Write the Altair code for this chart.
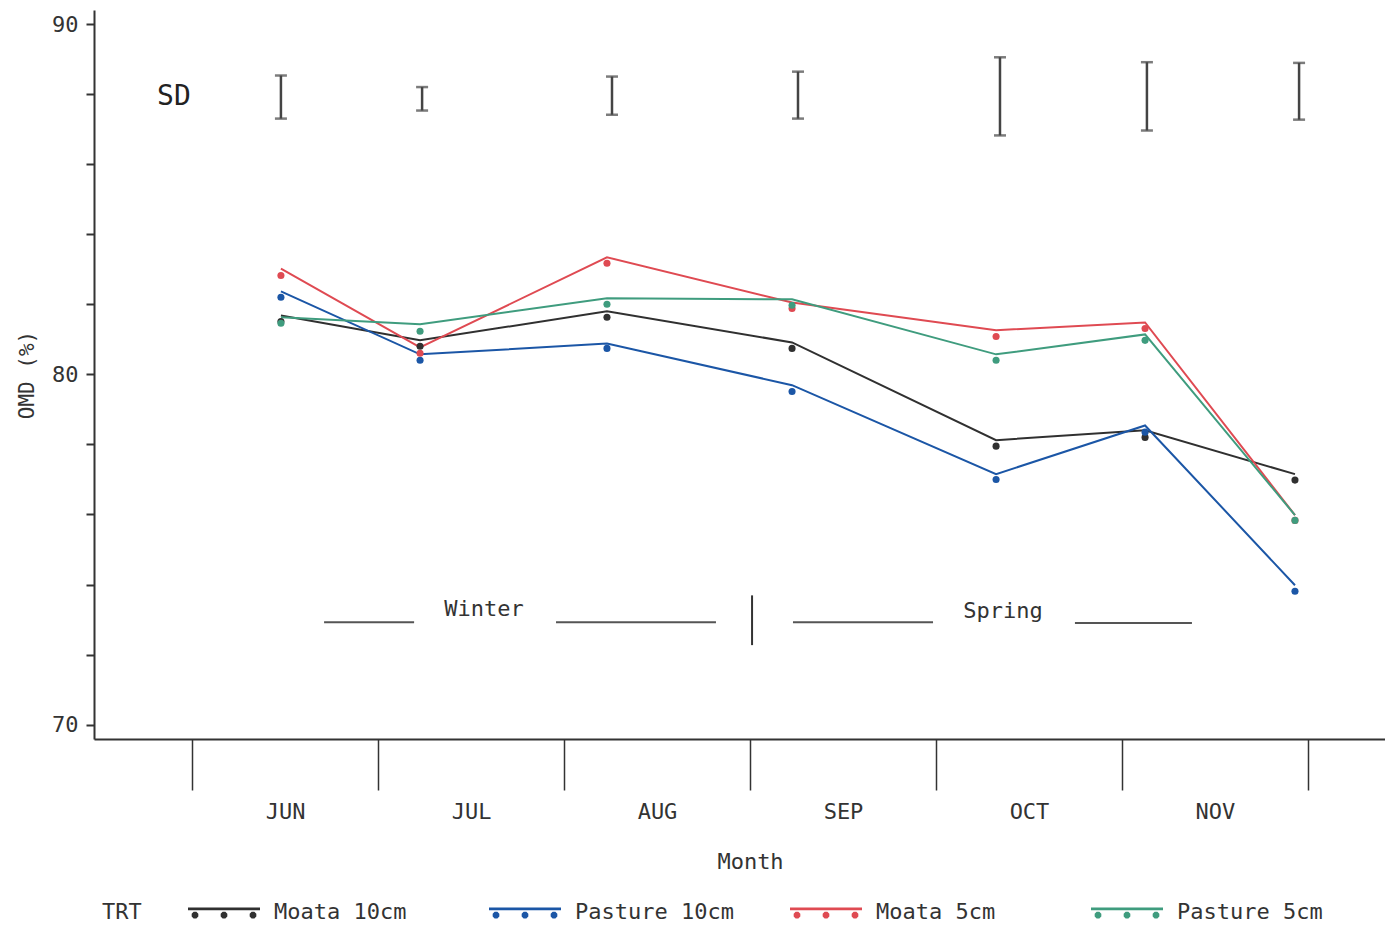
import math
import altair as alt
import pandas as pd

# ---------------- data ----------------
months = ["JUN", "JUL", "AUG", "SEP", "OCT", "NOV"]
month_bounds = [0, 1, 2, 3, 4, 5, 6]          # month boundaries (months since 1 June)
sample_pos = [0.478, 1.226, 2.231, 3.226, 4.323, 5.124, 5.930]

treatments = ["Moata 10cm", "Pasture 10cm", "Moata 5cm", "Pasture 5cm"]
colors = ["#303030", "#1b56a6", "#df4a52", "#3f9c7e"]

# fitted lines
line_moata10 = [81.68, 80.97, 81.80, 80.91, 78.12, 78.40, 77.15]
line_pasture10 = [82.37, 80.57, 80.88, 79.69, 77.15, 78.54, 73.98]
line_moata5 = [83.02, 80.77, 83.34, 82.05, 81.26, 81.48, 75.98]
line_pasture5 = [81.63, 81.43, 82.17, 82.14, 80.57, 81.14, 75.98]

# observed means (dots)
obs_moata10 = [81.51, 80.80, 81.63, 80.74, 77.95, 78.20, 76.98]
obs_pasture10 = [82.20, 80.40, 80.74, 79.51, 77.00, 78.35, 73.81]
obs_moata5 = [82.82, 80.60, 83.17, 81.88, 81.08, 81.31, 75.83]
obs_pasture5 = [81.46, 81.23, 82.00, 81.97, 80.40, 80.97, 75.83]

# SD bars
sd_pos = [0.478, 1.237, 2.258, 3.258, 4.344, 5.134, 5.952]
sd_high = [88.53, 88.20, 88.50, 88.64, 89.05, 88.91, 88.89]
sd_low = [87.30, 87.53, 87.41, 87.30, 86.82, 86.96, 87.27]
sd_label = ["SD"]
sd_label_x = [-0.097]
sd_label_y = [87.93]

# season annotation
season_names = ["Winter", "Spring"]
season_label_x = [1.570, 4.360]
season_label_y = [73.30, 73.24]
season_seg_start = [0.710, 1.957, 3.231, 4.747]
season_seg_end = [1.194, 2.817, 3.984, 5.376]
season_seg_y = [72.92, 72.92, 72.92, 72.90]
divider_x = [3.011]
divider_low = [72.27]
divider_high = [73.69]

# ---------------- tables ----------------
line_vals = [line_moata10, line_pasture10, line_moata5, line_pasture5]
obs_vals = [obs_moata10, obs_pasture10, obs_moata5, obs_pasture5]

lines_df = pd.DataFrame([
    {"TRT": t, "pos": p, "OMD": v}
    for t, vals in zip(treatments, line_vals) for p, v in zip(sample_pos, vals)
])
obs_df = pd.DataFrame([
    {"TRT": t, "pos": p, "OMD": v}
    for t, vals in zip(treatments, obs_vals) for p, v in zip(sample_pos, vals)
])
sd_df = pd.DataFrame({"pos": sd_pos, "hi": sd_high, "lo": sd_low})
sdlab_df = pd.DataFrame({"t": sd_label, "x": sd_label_x, "y": sd_label_y})
season_df = pd.DataFrame({"t": season_names, "x": season_label_x, "y": season_label_y})
seg_df = pd.DataFrame({"x": season_seg_start, "x2": season_seg_end, "y": season_seg_y})
div_df = pd.DataFrame({"x": divider_x, "lo": divider_low, "hi": divider_high})

FONT = "DejaVu Sans Mono"
INK = "#333333"

xscale = alt.Scale(domain=[-0.527, 6.414], nice=False, zero=False)
yscale = alt.Scale(domain=[69.59, 90.4], nice=False, zero=False)

# each boundary tick carries the name of the month that ends there; the label
# is shifted back by half a month so that it sits in the middle of that month
month_expr = "[''," + ",".join("'" + m + "'" for m in months) + "][datum.value]"

x_axis = alt.Axis(
    values=month_bounds, tickSize=51, tickWidth=1.5, tickColor=INK,
    domainColor=INK, domainWidth=2, grid=False,
    labelExpr=month_expr, labelOffset=-93, labelAlign="center", labelBaseline="top",
    labelPadding=11, labelFont=FONT, labelFontSize=22, labelColor=INK,
    labelOverlap=False, labelFlush=False,
    title="Month", titleFont=FONT, titleFontSize=22, titleFontWeight="normal",
    titleColor=INK, titlePadding=29, titleX=656,
)
y_axis = alt.Axis(
    values=list(range(70, 91)), tickSize=8, tickWidth=2, tickColor=INK,
    domainColor=INK, domainWidth=2, grid=False,
    labelExpr="datum.value % 10 === 0 ? datum.label : ''",
    labelPadding=8, labelFont=FONT, labelFontSize=22, labelColor=INK,
    labelOverlap=False,
    title="OMD (%)", titleFont=FONT, titleFontSize=21, titleFontWeight="normal",
    titleColor=INK, titlePadding=14,
)

color_scale = alt.Scale(domain=treatments, range=colors)


# legend glyph: a line with three dots beneath it (unit coordinates of the symbol)
def _octagon(cx, cy, r):
    pts = []
    for k in range(8):
        a = math.radians(22.5 + 45 * k)
        pts.append(f"{cx + r * math.cos(a):.3f},{cy + r * math.sin(a):.3f}")
    return "M" + "L".join(pts) + "Z"


legend_path = "M-1,-0.45L6.2,-0.45L6.2,-0.17L-1,-0.17Z" + "".join(
    _octagon(c, 0.32, 0.36) for c in (-0.3, 2.6, 5.5)
)

legend = alt.Legend(
    orient="none", legendX=8, legendY=891, direction="horizontal", columns=4,
    gridAlign="all", columnPadding=55,
    title="TRT", titleOrient="left", titleFont=FONT, titleFontSize=22,
    titleFontWeight="normal", titleColor=INK, titlePadding=45,
    symbolType=legend_path, symbolSize=400, symbolStrokeWidth=0,
    symbolOpacity=1, labelOffset=65,
    labelFont=FONT, labelFontSize=22, labelColor=INK,
)

lines = alt.Chart(lines_df).mark_line(strokeWidth=2).encode(
    x=alt.X("pos:Q", scale=xscale, axis=x_axis),
    y=alt.Y("OMD:Q", scale=yscale, axis=y_axis),
    stroke=alt.Stroke("TRT:N", scale=color_scale, legend=None),
    detail="TRT:N",
)
points = alt.Chart(obs_df).mark_point(size=50, opacity=1, filled=True,
                                      strokeWidth=0).encode(
    x=alt.X("pos:Q", scale=xscale),
    y=alt.Y("OMD:Q", scale=yscale),
    fill=alt.Fill("TRT:N", scale=color_scale, legend=legend, sort=treatments),
)
sd_rules = alt.Chart(sd_df).mark_rule(strokeWidth=2.5, color="#444444").encode(
    x=alt.X("pos:Q", scale=xscale), y=alt.Y("lo:Q", scale=yscale), y2="hi:Q"
)
sd_top = alt.Chart(sd_df).mark_tick(orient="horizontal", size=12, thickness=2.5,
                                     color="#444444").encode(
    x=alt.X("pos:Q", scale=xscale), y=alt.Y("hi:Q", scale=yscale)
)
sd_bot = alt.Chart(sd_df).mark_tick(orient="horizontal", size=12, thickness=2.5,
                                     color="#444444").encode(
    x=alt.X("pos:Q", scale=xscale), y=alt.Y("lo:Q", scale=yscale)
)
sd_text = alt.Chart(sdlab_df).mark_text(font=FONT, fontSize=28, color="#222222").encode(
    x=alt.X("x:Q", scale=xscale), y=alt.Y("y:Q", scale=yscale), text="t:N"
)
season_text = alt.Chart(season_df).mark_text(font=FONT, fontSize=22, color=INK).encode(
    x=alt.X("x:Q", scale=xscale), y=alt.Y("y:Q", scale=yscale), text="t:N"
)
season_segs = alt.Chart(seg_df).mark_rule(strokeWidth=2, color="#555555").encode(
    x=alt.X("x:Q", scale=xscale), x2="x2:Q", y=alt.Y("y:Q", scale=yscale)
)
divider = alt.Chart(div_df).mark_rule(strokeWidth=2, color="#333333").encode(
    x=alt.X("x:Q", scale=xscale), y=alt.Y("lo:Q", scale=yscale), y2="hi:Q"
)

chart = alt.layer(
    season_segs, divider, season_text, sd_rules, sd_top, sd_bot, sd_text,
    lines, points,
).resolve_scale(stroke="independent").properties(
    width=1291, height=729,
    padding={"left": 8, "top": 2, "right": 0, "bottom": 0},
).configure_view(stroke=None)

chart.save("out.html", embed_options={"renderer": "svg", "actions": False})
